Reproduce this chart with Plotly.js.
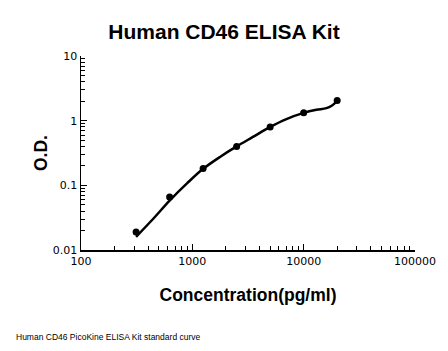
<!DOCTYPE html>
<html>
<head>
<meta charset="utf-8">
<script src="https://cdn.plot.ly/plotly-3.0.1.min.js"></script>
<style>html,body{margin:0;padding:0;background:#fff}#chart{width:448px;height:351px}</style>
</head>
<body>
<div id="chart"></div>
<script>
// Standard points
const concentrations = [312.5, 625, 1250, 2500, 5000, 10000, 20000];
const odValues = [0.019, 0.066, 0.182, 0.40, 0.80, 1.33, 2.05];
// Fitted curve
const curveX = [312.5, 450, 625, 900, 1250, 1800, 2500, 3500, 5000, 7000, 10000, 13000, 16000, 18000, 20000];
const curveY = [0.016, 0.031, 0.058, 0.108, 0.18, 0.28, 0.40, 0.56, 0.80, 1.06, 1.32, 1.47, 1.56, 1.72, 2.0];
const xTickVals = [100, 1000, 10000, 100000];
const xTickText = ['100', '1000', '10000', '100000'];
const yTickVals = [0.01, 0.1, 1, 10];
const yTickText = ['0.01', '0.1', '1', '10'];

const traces = [
  {x: curveX, y: curveY, mode: 'lines', type: 'scatter',
   line: {color: '#000', width: 2.5, shape: 'spline', smoothing: 1}, hoverinfo: 'skip'},
  {x: concentrations, y: odValues, mode: 'markers', type: 'scatter',
   marker: {color: '#000', size: 7}}
];

const tickFont = {family: 'DejaVu Sans, Verdana, sans-serif', size: 11, color: '#000'};
const layout = {
  width: 448, height: 351,
  margin: {l: 81, r: 33, t: 56, b: 101},
  paper_bgcolor: '#fff', plot_bgcolor: '#fff',
  showlegend: false,
  title: {text: '<b>Human CD46 ELISA Kit</b>', x: 0.5, xanchor: 'center', y: 0.91, yanchor: 'middle',
          font: {family: 'Liberation Sans, Arial, sans-serif', size: 21, color: '#000'}},
  xaxis: {type: 'log', range: [2, 5], showgrid: false, zeroline: false,
          showline: true, linecolor: '#000', linewidth: 1.5,
          ticks: 'inside', ticklen: 6, tickcolor: '#000',
          tickvals: xTickVals, ticktext: xTickText, tickfont: tickFont,
          minor: {ticks: 'inside', ticklen: 4, tickcolor: '#000', dtick: 'D1', showgrid: false},
          title: {text: '<b>Concentration(pg/ml)</b>', standoff: 22,
                  font: {family: 'Liberation Sans, Arial, sans-serif', size: 17.5, color: '#000'}}},
  yaxis: {type: 'log', range: [-2, 1], showgrid: false, zeroline: false,
          showline: true, linecolor: '#000', linewidth: 1.5,
          ticks: 'inside', ticklen: 6, tickcolor: '#000',
          tickvals: yTickVals, ticktext: yTickText, tickfont: tickFont,
          minor: {ticks: 'inside', ticklen: 4, tickcolor: '#000', dtick: 'D1', showgrid: false},
          title: {text: '<b>O.D.</b>', standoff: 0,
                  font: {family: 'Liberation Sans, Arial, sans-serif', size: 17.5, color: '#000'}}},
  annotations: [
    {text: 'Human CD46 PicoKine ELISA Kit standard curve', xref: 'paper', yref: 'paper',
     x: -81/334, y: -87/194, xanchor: 'left', yanchor: 'middle', showarrow: false,
     xshift: 14, font: {family: 'Liberation Sans, Arial, sans-serif', size: 8.5, color: '#000'}}
  ]
};

Plotly.newPlot('chart', traces, layout, {displayModeBar: false, staticPlot: true});
</script>
</body>
</html>
